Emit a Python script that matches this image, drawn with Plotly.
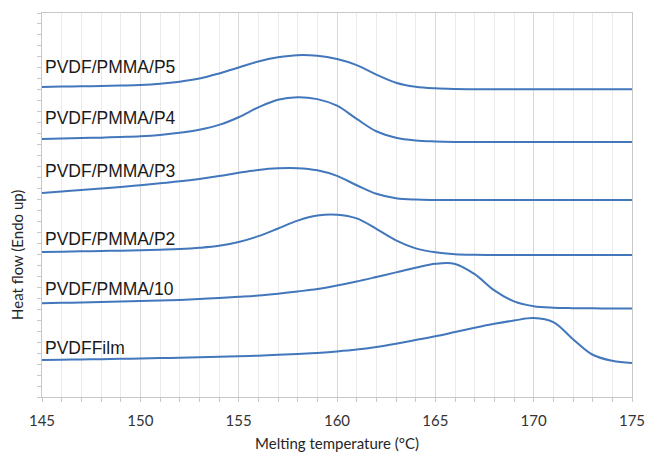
import plotly.graph_objects as go

# ---- data (temperature in °C, heat flow in arbitrary units, Endo up) ----
names = ["PVDF/PMMA/P5", "PVDF/PMMA/P4", "PVDF/PMMA/P3",
         "PVDF/PMMA/P2", "PVDF/PMMA/10", "PVDFFilm"]

temperature = [145, 146, 147, 148, 149, 150, 151, 152, 153, 154, 155, 156, 157, 158, 159, 160,
               161, 162, 163, 164, 165, 166, 167, 168, 169, 170, 171, 172, 173, 174, 175]

y_p5 = [28.26, 28.29, 28.32, 28.35, 28.39, 28.44, 28.55, 28.74, 29.03, 29.49, 30.03, 30.58,
        30.96, 31.16, 31.10, 30.80, 30.25, 29.38, 28.65, 28.28, 28.13, 28.07, 28.05, 28.05,
        28.05, 28.05, 28.05, 28.05, 28.05, 28.05, 28.05]

y_p4 = [23.52, 23.56, 23.60, 23.64, 23.70, 23.77, 23.89, 24.08, 24.36, 24.80, 25.50, 26.40,
        27.10, 27.33, 27.15, 26.55, 25.35, 24.22, 23.63, 23.38, 23.29, 23.25, 23.24, 23.24,
        23.24, 23.24, 23.24, 23.24, 23.24, 23.24, 23.24]

y_p3 = [18.59, 18.73, 18.87, 19.00, 19.15, 19.30, 19.48, 19.66, 19.88, 20.14, 20.44, 20.70,
        20.85, 20.86, 20.66, 20.15, 19.30, 18.52, 18.12, 17.99, 17.96, 17.96, 17.96, 17.96,
        17.96, 17.96, 17.96, 17.96, 17.96, 17.96, 17.96]

y_p2 = [13.22, 13.25, 13.28, 13.31, 13.34, 13.38, 13.43, 13.49, 13.60, 13.78, 14.13, 14.66,
        15.36, 16.08, 16.54, 16.62, 16.28, 15.33, 14.28, 13.55, 13.19, 13.02, 12.96, 12.94,
        12.94, 12.94, 12.94, 12.94, 12.94, 12.94, 12.94]

y_10 = [8.54, 8.58, 8.62, 8.66, 8.71, 8.75, 8.80, 8.85, 8.93, 9.02, 9.13, 9.25,
        9.42, 9.62, 9.84, 10.16, 10.53, 10.94, 11.36, 11.78, 12.14, 12.13, 11.20, 9.72,
        8.72, 8.28, 8.14, 8.10, 8.08, 8.07, 8.07]

y_film = [3.37, 3.40, 3.42, 3.45, 3.48, 3.51, 3.55, 3.58, 3.62, 3.66, 3.71, 3.77,
          3.84, 3.92, 4.02, 4.15, 4.32, 4.56, 4.86, 5.19, 5.53, 5.92, 6.31, 6.67,
          6.97, 7.19, 6.82, 5.27, 3.85, 3.30, 3.10]

label_y = [30.1, 25.4, 20.63, 14.37, 9.82, 4.44]

series = [y_p5, y_p4, y_p3, y_p2, y_10, y_film]

LINE = "#4277bc"
fig = go.Figure()
for name, ty in zip(names, series):
    fig.add_trace(go.Scatter(x=temperature, y=ty, mode="lines", name=name,
                             line=dict(color=LINE, width=2, shape="spline", smoothing=1.0),
                             showlegend=False))

for name, ly in zip(names, label_y):
    fig.add_annotation(x=0, xref="paper", xshift=1, y=ly, yref="y", text=name,
                       showarrow=False, xanchor="left", yanchor="middle",
                       font=dict(family="Liberation Sans, Arial", size=17.5, color="#1a1a1a"))

fig.add_annotation(x=-0.0424, xref="paper", y=0.37, yref="paper", text="Heat flow (Endo up)",
                   textangle=-90, showarrow=False, xanchor="center", yanchor="middle",
                   font=dict(family="Lato, Open Sans", size=15, color="#262626"))

fig.update_layout(
    width=646, height=454,
    margin=dict(l=42, r=14, t=13, b=57, autoexpand=False),
    paper_bgcolor="white", plot_bgcolor="white",
    xaxis=dict(range=[145, 175], dtick=5, tick0=145, automargin=False,
               showline=True, linecolor="#c8c8c8", linewidth=1, mirror=True,
               ticks="outside", ticklen=4, tickcolor="#c8c8c8",
               showgrid=True, gridcolor="#d9d9d9", gridwidth=1, zeroline=False,
               minor=dict(dtick=1, ticks="outside", ticklen=4, tickcolor="#c8c8c8",
                          showgrid=True, gridcolor="#ebebeb", gridwidth=1),
               ticklabelstandoff=6,
               tickfont=dict(family="Lato, Open Sans", size=15, color="#333333"),
               title=dict(text="Melting temperature (°C)", standoff=10,
                          font=dict(family="Lato, Open Sans", size=15, color="#262626"))),
    yaxis=dict(range=[0, 35], dtick=1, tick0=0, showticklabels=False, automargin=False,
               showline=True, linecolor="#c8c8c8", linewidth=1, mirror=True,
               ticks="outside", ticklen=4, tickcolor="#c8c8c8",
               showgrid=False, zeroline=False),
)

fig.write_html("out.html")
